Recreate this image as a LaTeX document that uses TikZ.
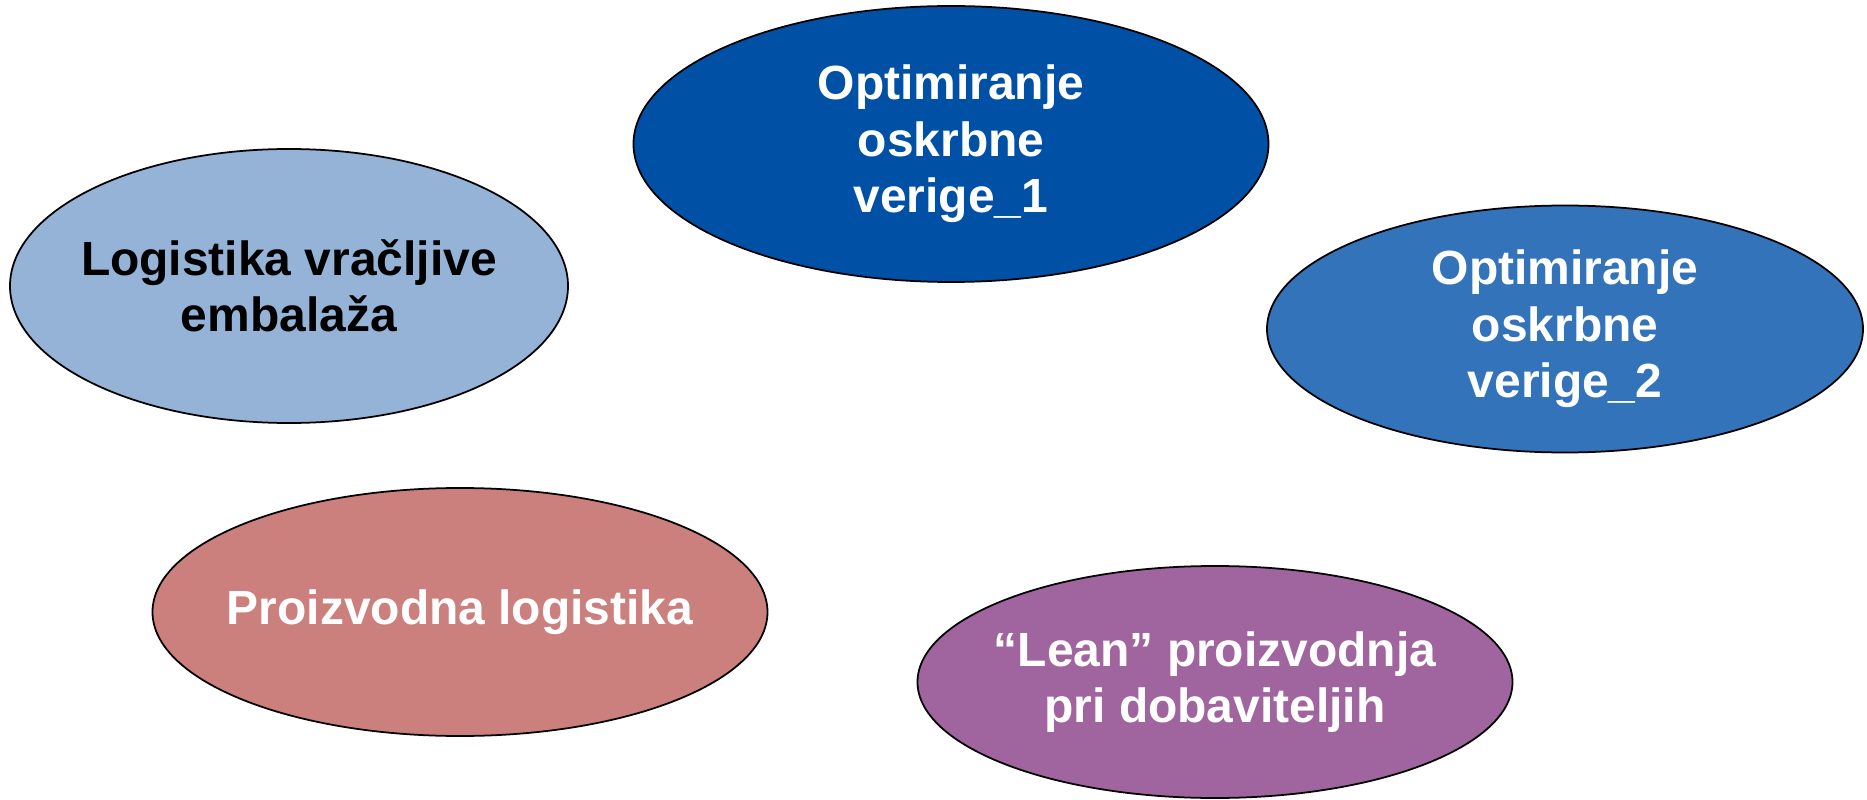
\documentclass[tikz,border=0pt]{standalone}
\usepackage{fontspec}
\setmainfont{Liberation Sans}
\usepackage{tikz}
\usepackage{xcolor}
\usetikzlibrary{shapes.geometric}

\definecolor{paleblue}{RGB}{149,179,215}
\definecolor{deepblue}{RGB}{0,81,165}
\definecolor{midblue}{RGB}{51,115,186}
\definecolor{rosered}{RGB}{204,128,126}
\definecolor{plum}{RGB}{160,101,158}

\begin{document}
\begin{tikzpicture}[font=\fontsize{13.65}{16.1}\selectfont\bfseries,
    bubble/.style={draw, ellipse, line width=0.5pt, inner sep=-0.6cm, align=center, text=white}]
    \useasboundingbox (0, 0) rectangle (18.67, 7.99);

    \node[bubble, fill=paleblue, text=black, minimum width=5.58cm, minimum height=2.74cm] (returnable) at (2.89, 5.13) {Logistika vračljive\\embalaža};
    \node[bubble, fill=deepblue, minimum width=6.35cm, minimum height=2.76cm] (chainone) at (9.51, 6.55) {Optimiranje\\oskrbne\\verige\_1};
    \node[bubble, fill=midblue, minimum width=5.96cm, minimum height=2.47cm] (chaintwo) at (15.65, 4.70) {Optimiranje\\oskrbne\\verige\_2};
    \node[bubble, fill=rosered, minimum width=6.15cm, minimum height=2.48cm] (production) at (4.60, 1.87) {Proizvodna logistika};
    \node[bubble, fill=plum, minimum width=5.95cm, minimum height=2.32cm] (lean) at (12.15, 1.17) {“Lean” proizvodnja\\pri dobaviteljih};
\end{tikzpicture}
\end{document}
